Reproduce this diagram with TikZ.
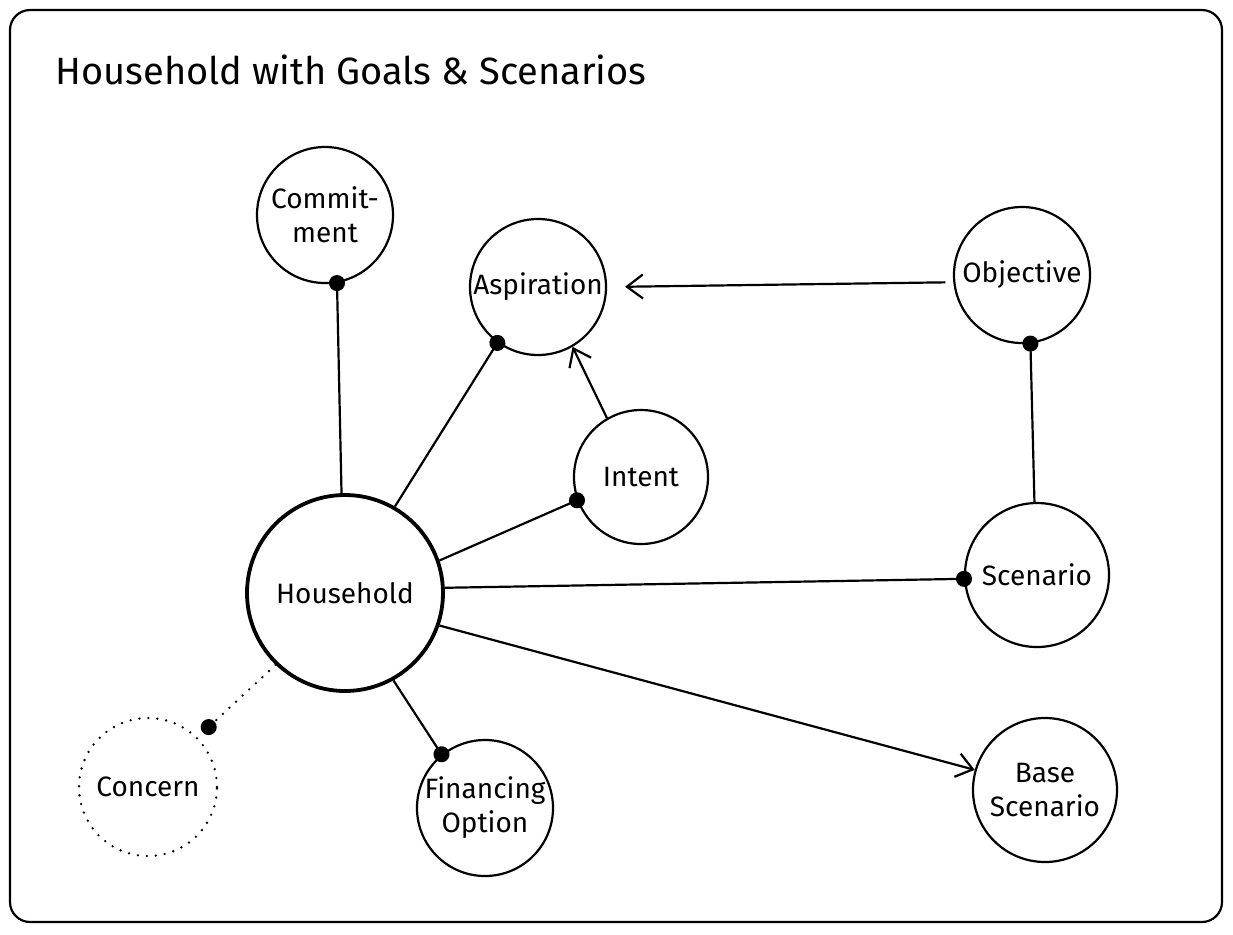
\documentclass[tikz,border=0pt]{standalone}
\usepackage{fontspec}
\setmainfont{Fira Sans}
\usetikzlibrary{arrows.meta}

\begin{document}
\begin{tikzpicture}[x=0.5pt,y=-0.5pt,>={Straight Barb[length=8pt,width=12pt]},line width=1.1pt]
\tikzstyle{unit}=[circle,draw,line width=1.1pt,inner sep=0pt,minimum size=68pt,align=center,font=\fontsize{14}{17}\selectfont]
\tikzstyle{big}=[unit,line width=1.9pt,minimum size=98pt]
\tikzstyle{dot}=[-{Circle[length=8pt]},shorten >=-4pt]
\tikzstyle{dotline}=[dash pattern=on 0pt off 4.5pt,line cap=round,line width=1.3pt]
  \fill[white](0,0) rectangle (1233,934);
  \useasboundingbox (0,0) rectangle (1233,934);
  \draw[rounded corners=10pt](10,10) rectangle (1222,922);
  \node[anchor=base west,font=\fontsize{19}{22}\selectfont](title) at (48,84){Household with Goals \& Scenarios};
  \node[unit](commit) at (325,215){Commit-\\ment};
  \node[unit](asp) at (538,287){Aspiration};
  \node[unit](obj) at (1022,275){Objective};
  \node[unit,minimum size=67pt](intent) at (641,477){Intent};
  \node[big](hh) at (345,593){Household};
  \node[unit,minimum size=69pt](concern) at (148,787)[dotline]{Concern};
  \node[unit,minimum size=72pt](scen) at (1037,575){Scenario};
  \node[unit](fin) at (485,808){Financing\\Option};
  \node[unit,minimum size=72pt](base) at (1045,790){Base\\Scenario};
  \draw[dot](hh.92)--(commit.-80);
  \draw[dot](hh.60)--(asp.234);
  \draw[dot](hh.19)--(intent.200);
  \draw[dot](hh.3)--(scen.183);
  \draw[->](hh.-19)--(base.164);
  \draw[dot](hh.-61)--(fin.129);
  \draw[dot,dotline,shorten >=3.5pt](hh.226)--(concern.45);
  \draw[->](intent.120)--(asp.-60);
  \draw[->,shorten >=9pt,shorten <=4pt](obj.186)--(asp.0);
  \draw[dot](scen.92)--(obj.-83);
\end{tikzpicture}
\end{document}
